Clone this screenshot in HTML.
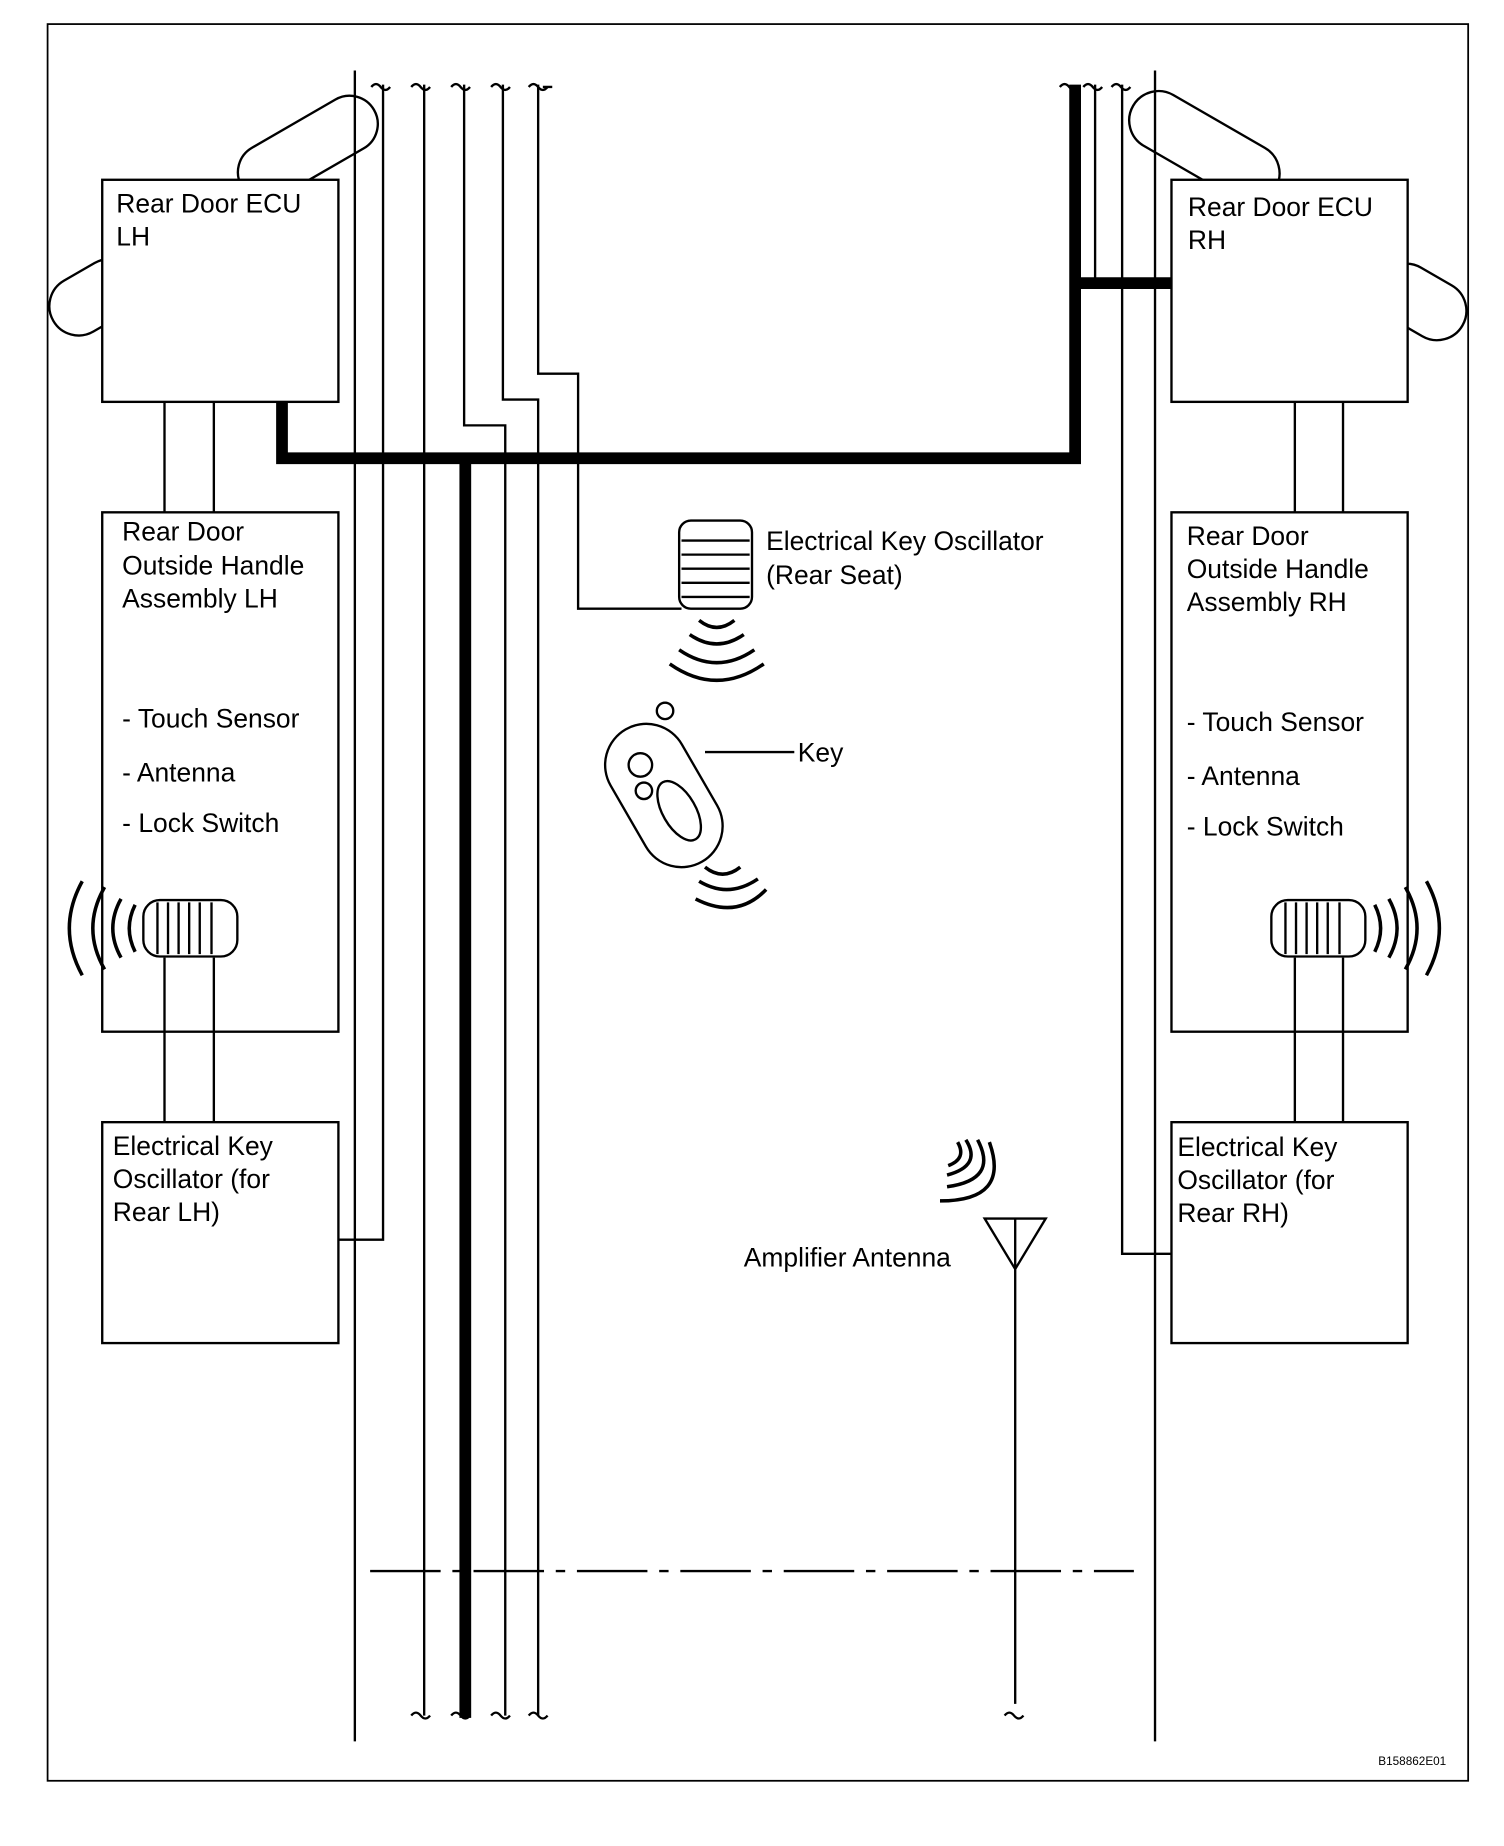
<!DOCTYPE html>
<html><head><style>html,body{margin:0;padding:0;background:#fff}svg{display:block}text{font-family:"Liberation Sans",sans-serif;font-size:22.5px;fill:#000}</style></head><body>
<svg width="1504" height="1846" viewBox="0 0 1280 1571" preserveAspectRatio="none" xmlns="http://www.w3.org/2000/svg">
<rect x="0" y="0" width="1280" height="1571" fill="#fff"/>
<rect x="40.5" y="20.5" width="1209" height="1495" fill="none" stroke="#000" stroke-width="1.5"/>
<g fill="none" stroke="#000" stroke-width="2">
<rect x="197" y="102" width="130" height="48" rx="24" transform="rotate(-30 262 126)" fill="#fff"/>
<rect x="40" y="228" width="80" height="50" rx="25" transform="rotate(-30 80 253)" fill="#fff"/>
<rect x="955" y="100" width="140" height="50" rx="25" transform="rotate(30 1025 125)" fill="#fff"/>
<rect x="1170" y="232" width="80" height="50" rx="25" transform="rotate(30 1210 257)" fill="#fff"/>
<rect x="87" y="153" width="201" height="189" fill="#fff"/>
<rect x="87" y="436" width="201" height="442"/>
<rect x="87" y="955" width="201" height="188" fill="#fff"/>
<rect x="997" y="153" width="201" height="189" fill="#fff"/>
<rect x="997" y="436" width="201" height="442"/>
<rect x="997" y="955" width="201" height="188" fill="#fff"/>
<path d="M140 342V436M182 342V436M140 815V955M182 815V955M1102 342V436M1143 342V436M1102 815V955M1143 815V955"/>
<path d="M302 60V1482M983 60V1482"/>
<path d="M326 72V1055H288M361 72V1460M395 72V362H430V1460M428 72V340H458V1460M458 72V318H492V518H580"/>
<path d="M932 72V241M955 72V1067H997"/>
<path d="M316 74q4-5 8 0t8 0M350 74q4-5 8 0t8 0M384 74q4-5 8 0t8 0M418 74q4-5 8 0t8 0M450 74q4-5 8 0t8 0M470 74q-4 0 -8 0M902 74q4-5 8 0t8 0M922 74q4-5 8 0t8 0M946 74q4-5 8 0t8 0"/>
<path d="M350 1460q4-5 8 0t8 0M384 1460q4-5 8 0t8 0M418 1460q4-5 8 0t8 0M450 1460q4-5 8 0t8 0M855 1460q4-5 8 0t8 0"/>
<path d="M315 1337H965" stroke-dasharray="60 10 8 10"/>
<path d="M838 1037H890L864 1080ZM864 1037V1450"/>
</g>
<path d="M240 342V390H915V72M915 241H997" fill="none" stroke="#000" stroke-width="10"/>
<path d="M396 390V1462" stroke="#000" stroke-width="10"/>
<g fill="#fff" stroke="#000" stroke-width="2">
<rect x="122" y="766" width="80" height="48" rx="14"/>
<path d="M134 768v44M143 768v44M152 768v44M161 768v44M170 768v44M180 768v44" fill="none"/>
<rect x="1082" y="766" width="80" height="48" rx="14"/>
<path d="M1094 768v44M1103 768v44M1112 768v44M1121 768v44M1130 768v44M1140 768v44" fill="none"/>
<rect x="578" y="443" width="62" height="75" rx="10"/>
<path d="M580 460h58M580 472h58M580 484h58M580 496h58M580 508h58" fill="none"/>
</g>
<g fill="none" stroke="#000" stroke-width="3">
<path d="M115 770q-10 20 0 40M103 765q-14 25 0 50M89 755q-20 35 0 70M70 750q-22 40 0 80"/>
<path d="M1170 770q10 20 0 40M1182 765q14 25 0 50M1196 755q20 35 0 70M1214 750q22 40 0 80"/>
<path d="M595 528q15 12 30 0M587 540q23 16 46 0M578 553q32 22 64 0M570 565q40 28 80 0"/>
<path d="M600 738q15 12 30 0M595 750q25 15 50 -2M592 765q35 18 60 -8"/>
<path d="M815 972q8 14 -8 20M822 970q14 22 -16 30M832 970q18 34 -26 40M842 972q18 50 -42 50"/>
</g>
<g stroke="#000" stroke-width="2" fill="#fff">
<rect x="530" y="612" width="70" height="130" rx="35" transform="rotate(-30 565 677)"/>
<circle cx="545" cy="651" r="10"/><circle cx="548" cy="673" r="7"/>
<ellipse cx="578" cy="690" rx="14" ry="28" transform="rotate(-30 578 690)"/>
<circle cx="566" cy="605" r="7" fill="none"/>
</g>
<path d="M600 640H676" stroke="#000" stroke-width="2"/>
<text x="99" y="181">Rear Door ECU</text><text x="99" y="209">LH</text>
<text x="1011" y="184">Rear Door ECU</text><text x="1011" y="212">RH</text>
<text x="104" y="460">Rear Door</text><text x="104" y="489">Outside Handle</text><text x="104" y="517">Assembly LH</text>
<text x="104" y="619">- Touch Sensor</text><text x="104" y="665">- Antenna</text><text x="104" y="708">- Lock Switch</text>
<text x="1010" y="464">Rear Door</text><text x="1010" y="492">Outside Handle</text><text x="1010" y="520">Assembly RH</text>
<text x="1010" y="622">- Touch Sensor</text><text x="1010" y="668">- Antenna</text><text x="1010" y="711">- Lock Switch</text>
<text x="96" y="983">Electrical Key</text><text x="96" y="1011">Oscillator (for</text><text x="96" y="1039">Rear LH)</text>
<text x="1002" y="984">Electrical Key</text><text x="1002" y="1012">Oscillator (for</text><text x="1002" y="1040">Rear RH)</text>
<text x="652" y="468">Electrical Key Oscillator</text><text x="652" y="497">(Rear Seat)</text>
<text x="679" y="648">Key</text>
<text x="633" y="1078">Amplifier Antenna</text>
<text x="1173" y="1502" style="font-size:10px">B158862E01</text>
</svg>
</body></html>
